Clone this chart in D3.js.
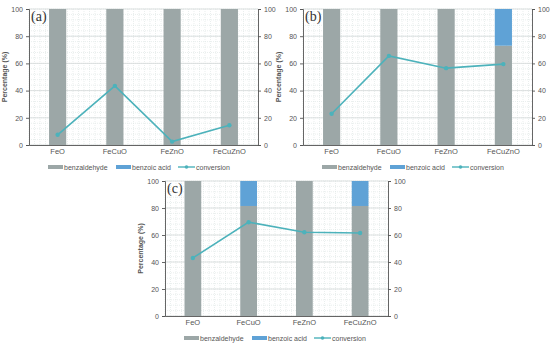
<!DOCTYPE html>
<html>
<head>
<meta charset="utf-8">
<script src="https://cdn.jsdelivr.net/npm/d3@7"></script>
<style>
  body { margin: 0; background: #fff; }
  svg text { font-family: "Liberation Sans", Arial, sans-serif; }
</style>
</head>
<body>
<div id="vis_container"></div>
<script>
// data
var categories = ["FeO", "FeCuO", "FeZnO", "FeCuZnO"];
var yTicks = [0, 20, 40, 60, 80, 100];
var seriesNames = ["benzaldehyde", "benzoic acid", "conversion"];

var benzaldehydeA = [100, 100, 100, 100];
var benzoicA      = [0, 0, 0, 0];
var conversionA   = [7.5, 43.5, 2.5, 14.5];

var benzaldehydeB = [100, 100, 100, 73];
var benzoicB      = [0, 0, 0, 27];
var conversionB   = [23, 65.5, 56.5, 59.5];

var benzaldehydeC = [100, 81.5, 100, 81.5];
var benzoicC      = [0, 18.5, 0, 18.5];
var conversionC   = [43, 69.5, 62, 61.5];

var colors = {bar1: "#9ca7a7", bar2: "#5fa2d6", line: "#4cb2bb", axis: "#555", text: "#555"};

var svg = d3.select("#vis_container").append("svg")
	.attr("width", 550)
	.attr("height", 345);

function drawPanel(p) {
	var g = svg.append("g");
	var x = d3.scaleBand().domain(categories).range([p.x0, p.x1]).paddingInner(0).paddingOuter(0);
	var y = d3.scaleLinear().domain([0, 100]).range([p.y1, p.y0]);
	var bw = x.bandwidth() * 0.3;

	// dotted minor grid
	var minorY = d3.range(0, 101, 4);
	g.selectAll(".minorY").data(minorY).enter().append("line")
		.attr("x1", p.x0).attr("x2", p.x1)
		.attr("y1", function(d) { return y(d); }).attr("y2", function(d) { return y(d); })
		.attr("stroke", "#dbe4e2").attr("stroke-width", 0.6).attr("stroke-dasharray", "1,1");
	var minorX = d3.range(p.x0, p.x1, 5.5);
	g.selectAll(".minorX").data(minorX).enter().append("line")
		.attr("x1", function(d) { return d; }).attr("x2", function(d) { return d; })
		.attr("y1", p.y0).attr("y2", p.y1)
		.attr("stroke", "#dbe4e2").attr("stroke-width", 0.6).attr("stroke-dasharray", "1,1");
	// major grid
	g.selectAll(".major").data(yTicks).enter().append("line")
		.attr("x1", p.x0).attr("x2", p.x1)
		.attr("y1", function(d) { return y(d); }).attr("y2", function(d) { return y(d); })
		.attr("stroke", "#d4d9d9").attr("stroke-width", 0.8);

	// stacked bars
	g.selectAll(".b1").data(categories).enter().append("rect")
		.attr("x", function(d) { return x(d) + (x.bandwidth() - bw) / 2; })
		.attr("width", bw)
		.attr("y", function(d, i) { return y(p.b1[i]); })
		.attr("height", function(d, i) { return y(0) - y(p.b1[i]); })
		.attr("fill", colors.bar1);
	g.selectAll(".b2").data(categories).enter().append("rect")
		.attr("x", function(d) { return x(d) + (x.bandwidth() - bw) / 2; })
		.attr("width", bw)
		.attr("y", function(d, i) { return y(p.b1[i] + p.b2[i]); })
		.attr("height", function(d, i) { return y(p.b1[i]) - y(p.b1[i] + p.b2[i]); })
		.attr("fill", colors.bar2);

	// conversion line
	var line = d3.line()
		.x(function(d, i) { return x(categories[i]) + x.bandwidth() / 2; })
		.y(function(d) { return y(d); });
	g.append("path").datum(p.conv)
		.attr("d", line).attr("fill", "none")
		.attr("stroke", colors.line).attr("stroke-width", 1.6);
	g.selectAll(".pt").data(p.conv).enter().append("circle")
		.attr("cx", function(d, i) { return x(categories[i]) + x.bandwidth() / 2; })
		.attr("cy", function(d) { return y(d); })
		.attr("r", 2.2).attr("fill", colors.line);

	// axes
	var left = g.append("g").attr("transform", "translate(" + p.x0 + ",0)")
		.call(d3.axisLeft(y).tickValues(yTicks).tickSize(3).tickPadding(3));
	var right = g.append("g").attr("transform", "translate(" + p.x1 + ",0)")
		.call(d3.axisRight(y).tickValues(yTicks).tickSize(3).tickPadding(3));
	var bottom = g.append("g").attr("transform", "translate(0," + p.y1 + ")")
		.call(d3.axisBottom(x).tickSize(0).tickPadding(4));
	[left, right, bottom].forEach(function(a) {
		a.selectAll("path, line").attr("stroke", colors.axis).attr("stroke-width", 0.9);
		a.selectAll("text").attr("fill", colors.text).attr("font-size", "7px");
	});
	bottom.selectAll("text").attr("font-size", "7.5px");

	// y title
	g.append("text")
		.attr("transform", "translate(" + (p.x0 - 22) + "," + ((p.y0 + p.y1) / 2) + ") rotate(-90)")
		.attr("text-anchor", "middle")
		.attr("font-size", "7px").attr("font-weight", "bold").attr("fill", colors.text)
		.text("Percentage (%)");

	// panel label
	g.append("text")
		.attr("x", p.x0 + 2).attr("y", p.y0 + 12)
		.attr("font-size", "14px").attr("fill", "#333")
		.style("font-family", "'Liberation Serif', 'DejaVu Serif', serif")
		.text(p.label);

	// legend
	var leg = g.append("g").attr("transform", "translate(" + (p.x0 + 19) + "," + (p.y1 + 22) + ")");
	var swatchX = [0, 68];
	var lineX = 130;
	leg.selectAll(".sw").data([colors.bar1, colors.bar2]).enter().append("rect")
		.attr("x", function(d, i) { return swatchX[i]; })
		.attr("y", -2).attr("width", 15).attr("height", 4)
		.attr("fill", function(d) { return d; });
	leg.append("line").attr("x1", lineX).attr("x2", lineX + 17).attr("y1", 0).attr("y2", 0)
		.attr("stroke", colors.line).attr("stroke-width", 1.4);
	leg.append("circle").attr("cx", lineX + 8.5).attr("cy", 0).attr("r", 1.8).attr("fill", colors.line);
	var textX = [16, 84, 148];
	leg.selectAll(".lt").data(seriesNames).enter().append("text")
		.attr("x", function(d, i) { return textX[i]; })
		.attr("y", 2.5)
		.attr("font-size", "7px").attr("fill", colors.text)
		.text(function(d) { return d; });
}

drawPanel({x0: 29, x1: 258, y0: 9, y1: 145, label: "(a)", b1: benzaldehydeA, b2: benzoicA, conv: conversionA});
drawPanel({x0: 303, x1: 532, y0: 9, y1: 145, label: "(b)", b1: benzaldehydeB, b2: benzoicB, conv: conversionB});
drawPanel({x0: 165, x1: 388, y0: 181, y1: 316, label: "(c)", b1: benzaldehydeC, b2: benzoicC, conv: conversionC});
</script>
</body>
</html>
